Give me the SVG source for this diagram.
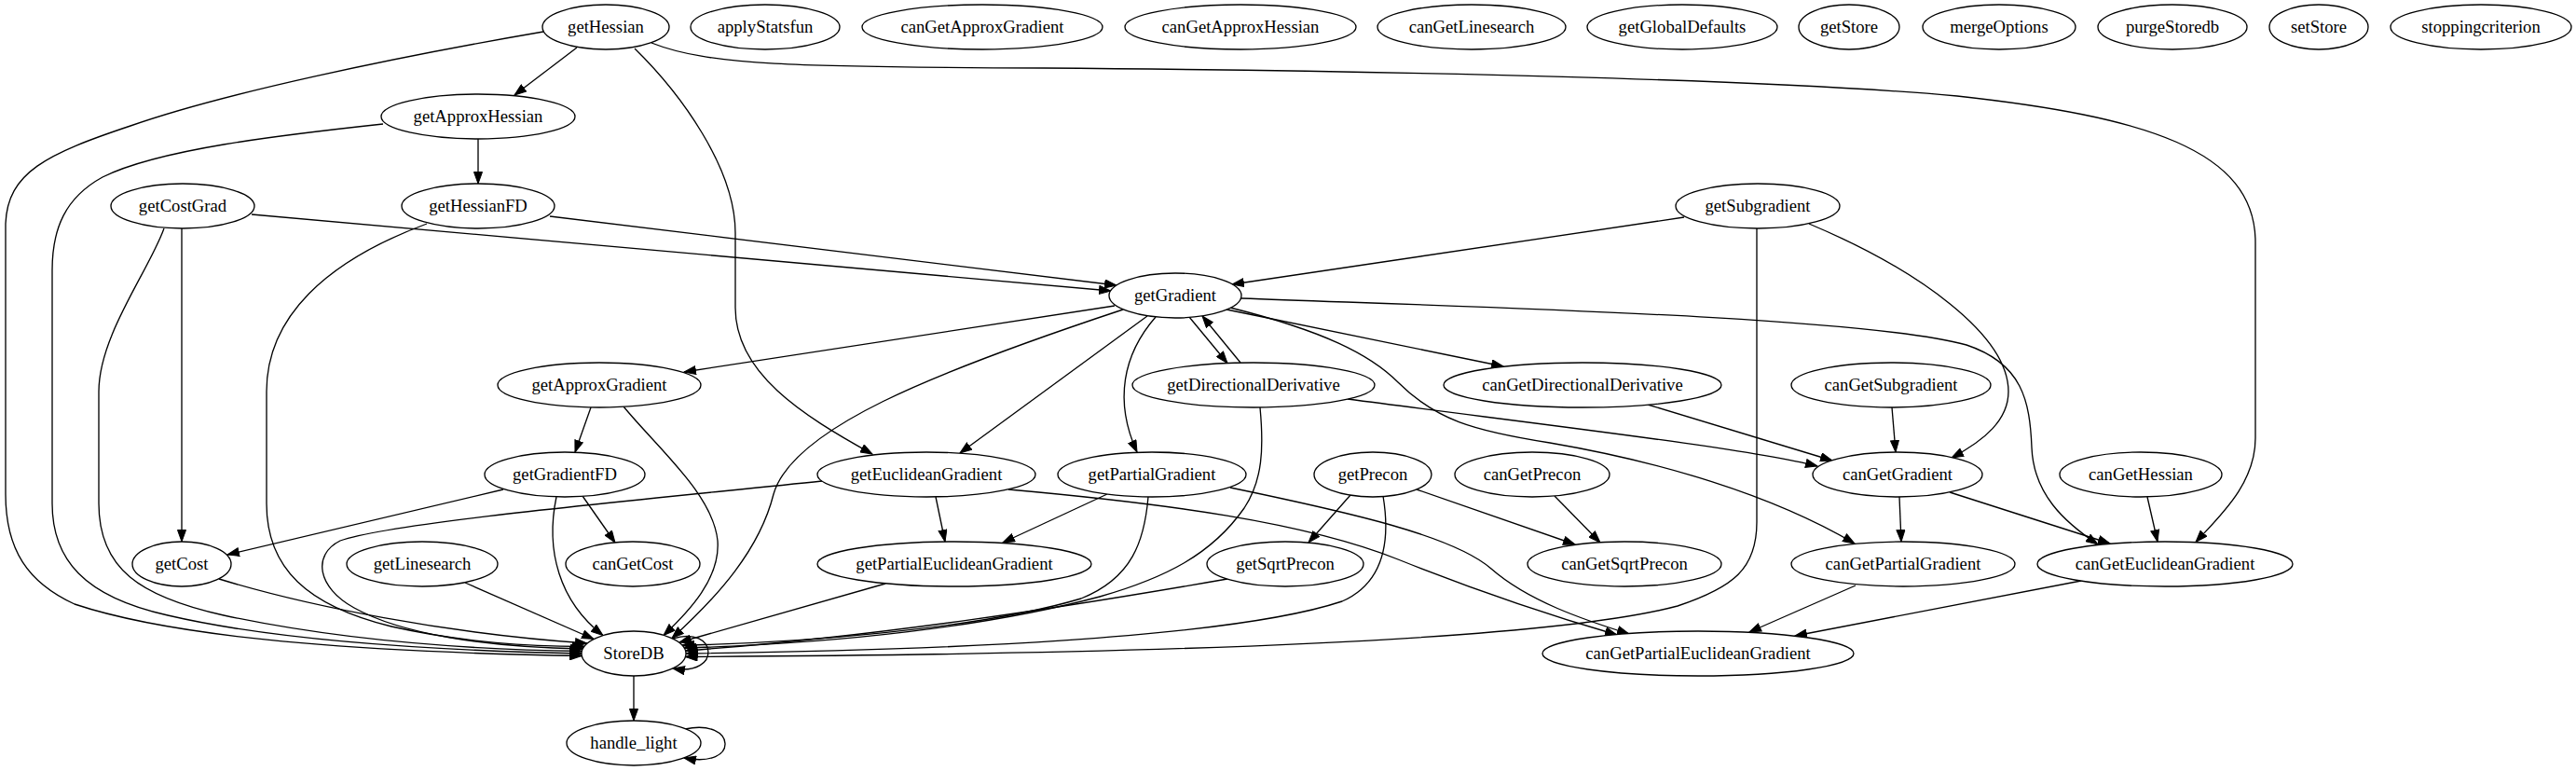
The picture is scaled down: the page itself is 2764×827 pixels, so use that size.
<svg xmlns="http://www.w3.org/2000/svg" width="2764" height="827" viewBox="0 0 2764 827">
<defs>
<style>
.n ellipse{fill:#fff;stroke:#000;stroke-width:1.33}
.n text{font-family:"Liberation Serif","Times New Roman",serif;font-size:18.67px;text-anchor:middle;fill:#000}
#edges path{fill:none;stroke:#000;stroke-width:1.33;marker-end:url(#ah)}
</style>
<marker id="ah" markerUnits="userSpaceOnUse" markerWidth="14" markerHeight="10" viewBox="0 0 14 10" refX="13" refY="5" orient="auto"><path d="M0.5,0.5 L13,5 L0.5,9.5 z" fill="#000" stroke="#000" stroke-width="1"/></marker>
</defs>
<rect width="2764" height="827" fill="#fff"/>
<g id="edges">
<path d="M619,51 L552,102"/>
<path d="M583,34 C420,62 240,100 140,135 C50,165 8,185 6,240 L6,530 C6,590 30,625 80,648 C200,688 420,700 624,703.5"/>
<path d="M411,133 C300,145 170,160 110,190 C70,212 56,245 56,290 L56,540 C56,600 90,640 180,660 C300,688 480,698 624,701"/>
<path d="M681,52 C730,100 789,180 789,250 L789,330 C789,400 860,445 936,487"/>
<path d="M513,149 L513,197"/>
<path d="M590,232 L1198,306"/>
<path d="M270,230 L1192,312"/>
<path d="M458,240 C350,280 286,340 286,420 L286,540 C286,610 330,650 420,672 C500,690 570,693 627,693.5"/>
<path d="M195,245 L195,581"/>
<path d="M176,245 C160,290 106,360 106,420 L106,540 C106,610 150,640 240,660 C380,690 520,697 624,698.5"/>
<path d="M1807,233 L1322,305"/>
<path d="M1885,245 L1885,560 C1885,610 1860,630 1800,650 C1650,690 1200,702 735.5,704.5"/>
<path d="M1941,240 C2060,290 2155,360 2155,420 C2155,450 2130,472 2094,491"/>
<path d="M1196,328 L734,399"/>
<path d="M1205,332 C1000,400 850,460 830,530 C815,590 770,640 721,684.5"/>
<path d="M1231,339 L1030,486"/>
<path d="M1240,340 C1205,380 1195,430 1220,485"/>
<path d="M1276,340 L1317,389.5"/>
<path d="M1331,389 L1290,339"/>
<path d="M1316,332 L1613,393"/>
<path d="M1320,330 C1420,355 1470,380 1500,410 C1540,450 1580,462 1663,475 C1780,495 1900,530 1990,583"/>
<path d="M1332,320 C1600,330 2000,340 2110,370 C2170,390 2178,430 2180,480 C2182,530 2215,560 2251,584"/>
<path d="M634,437 L617,485"/>
<path d="M669,436 C705,480 765,530 770,580 C773,620 740,655 712,681.5"/>
<path d="M540,525 L244,595"/>
<path d="M625,532 L660,582"/>
<path d="M597,533 C585,590 600,645 647,681.5"/>
<path d="M1446,428 C1650,455 1870,480 1950,500"/>
<path d="M1352,437 C1356,480 1355,515 1335,545 C1300,595 1250,620 1180,640 C1060,672 900,690 734.5,695"/>
<path d="M1768,434 L1966,494"/>
<path d="M2030,437 L2034,485"/>
<path d="M1004,533 L1014,581"/>
<path d="M882,516 C700,535 420,560 365,580 C335,595 340,630 380,652 C430,680 520,694 625,696"/>
<path d="M1082,525 C1250,540 1400,560 1500,600 C1600,640 1680,665 1735,681"/>
<path d="M1320,523 C1450,550 1560,575 1600,610 C1640,645 1700,665 1748,680"/>
<path d="M1188,530 L1076,582"/>
<path d="M1232,533 C1228,580 1215,620 1160,642 C1050,675 850,690 732,692"/>
<path d="M1449,531 L1404,582"/>
<path d="M1520,525 L1690,584"/>
<path d="M1484,532 C1492,580 1485,625 1440,645 C1320,685 1000,698 736,701"/>
<path d="M1668,532 L1717,582"/>
<path d="M2038,533 L2040,581"/>
<path d="M2092,528 L2264,583"/>
<path d="M2304,533 L2315,581"/>
<path d="M699,46 C760,70 850,72 1120,73 C1500,76 1900,85 2100,103 C2300,125 2420,160 2420,260 L2420,470 C2420,520 2380,555 2356,581.5"/>
<path d="M235,621 C330,650 480,680 630,690"/>
<path d="M499,625 L637,685.5"/>
<path d="M950,626 L729,689"/>
<path d="M1317,621 C1150,650 950,682 735.7,698"/>
<path d="M722,685 C770,670 775,726 722,717"/>
<path d="M680,725 L680,773"/>
<path d="M735,782 C790,770 795,825 734,813"/>
<path d="M1991,628 L1877,678"/>
<path d="M2233,623 L1926,682"/>
</g>
<g id="getHessian" class="n"><ellipse cx="650" cy="29" rx="68" ry="24"/><text x="650" y="35">getHessian</text></g>
<g id="applyStatsfun" class="n"><ellipse cx="821" cy="29" rx="80" ry="24"/><text x="821" y="35">applyStatsfun</text></g>
<g id="canGetApproxGradient" class="n"><ellipse cx="1054" cy="29" rx="129" ry="24"/><text x="1054" y="35">canGetApproxGradient</text></g>
<g id="canGetApproxHessian" class="n"><ellipse cx="1331" cy="29" rx="124" ry="24"/><text x="1331" y="35">canGetApproxHessian</text></g>
<g id="canGetLinesearch" class="n"><ellipse cx="1579" cy="29" rx="101" ry="24"/><text x="1579" y="35">canGetLinesearch</text></g>
<g id="getGlobalDefaults" class="n"><ellipse cx="1805" cy="29" rx="102" ry="24"/><text x="1805" y="35">getGlobalDefaults</text></g>
<g id="getStore" class="n"><ellipse cx="1984" cy="29" rx="54" ry="24"/><text x="1984" y="35">getStore</text></g>
<g id="mergeOptions" class="n"><ellipse cx="2145" cy="29" rx="82" ry="24"/><text x="2145" y="35">mergeOptions</text></g>
<g id="purgeStoredb" class="n"><ellipse cx="2331" cy="29" rx="80" ry="24"/><text x="2331" y="35">purgeStoredb</text></g>
<g id="setStore" class="n"><ellipse cx="2488" cy="29" rx="53" ry="24"/><text x="2488" y="35">setStore</text></g>
<g id="stoppingcriterion" class="n"><ellipse cx="2662" cy="29" rx="97" ry="24"/><text x="2662" y="35">stoppingcriterion</text></g>
<g id="getApproxHessian" class="n"><ellipse cx="513" cy="125" rx="104" ry="24"/><text x="513" y="131">getApproxHessian</text></g>
<g id="getCostGrad" class="n"><ellipse cx="196" cy="221" rx="77" ry="24"/><text x="196" y="227">getCostGrad</text></g>
<g id="getHessianFD" class="n"><ellipse cx="513" cy="221" rx="82" ry="24"/><text x="513" y="227">getHessianFD</text></g>
<g id="getSubgradient" class="n"><ellipse cx="1886" cy="221" rx="88" ry="24"/><text x="1886" y="227">getSubgradient</text></g>
<g id="getGradient" class="n"><ellipse cx="1261" cy="317" rx="71" ry="24"/><text x="1261" y="323">getGradient</text></g>
<g id="getApproxGradient" class="n"><ellipse cx="643" cy="413" rx="109" ry="24"/><text x="643" y="419">getApproxGradient</text></g>
<g id="getDirectionalDerivative" class="n"><ellipse cx="1345" cy="413" rx="130" ry="24"/><text x="1345" y="419">getDirectionalDerivative</text></g>
<g id="canGetDirectionalDerivative" class="n"><ellipse cx="1698" cy="413" rx="149" ry="24"/><text x="1698" y="419">canGetDirectionalDerivative</text></g>
<g id="canGetSubgradient" class="n"><ellipse cx="2029" cy="413" rx="107" ry="24"/><text x="2029" y="419">canGetSubgradient</text></g>
<g id="getGradientFD" class="n"><ellipse cx="606" cy="509" rx="86" ry="24"/><text x="606" y="515">getGradientFD</text></g>
<g id="getEuclideanGradient" class="n"><ellipse cx="994" cy="509" rx="117" ry="24"/><text x="994" y="515">getEuclideanGradient</text></g>
<g id="getPartialGradient" class="n"><ellipse cx="1236" cy="509" rx="101" ry="24"/><text x="1236" y="515">getPartialGradient</text></g>
<g id="getPrecon" class="n"><ellipse cx="1473" cy="509" rx="63" ry="24"/><text x="1473" y="515">getPrecon</text></g>
<g id="canGetPrecon" class="n"><ellipse cx="1644" cy="509" rx="83" ry="24"/><text x="1644" y="515">canGetPrecon</text></g>
<g id="canGetGradient" class="n"><ellipse cx="2036" cy="509" rx="91" ry="24"/><text x="2036" y="515">canGetGradient</text></g>
<g id="canGetHessian" class="n"><ellipse cx="2297" cy="509" rx="87" ry="24"/><text x="2297" y="515">canGetHessian</text></g>
<g id="getCost" class="n"><ellipse cx="195" cy="605" rx="53" ry="24"/><text x="195" y="611">getCost</text></g>
<g id="getLinesearch" class="n"><ellipse cx="453" cy="605" rx="81" ry="24"/><text x="453" y="611">getLinesearch</text></g>
<g id="canGetCost" class="n"><ellipse cx="679" cy="605" rx="72" ry="24"/><text x="679" y="611">canGetCost</text></g>
<g id="getPartialEuclideanGradient" class="n"><ellipse cx="1024" cy="605" rx="147" ry="24"/><text x="1024" y="611">getPartialEuclideanGradient</text></g>
<g id="getSqrtPrecon" class="n"><ellipse cx="1379" cy="605" rx="84" ry="24"/><text x="1379" y="611">getSqrtPrecon</text></g>
<g id="canGetSqrtPrecon" class="n"><ellipse cx="1743" cy="605" rx="104" ry="24"/><text x="1743" y="611">canGetSqrtPrecon</text></g>
<g id="canGetPartialGradient" class="n"><ellipse cx="2042" cy="605" rx="120" ry="24"/><text x="2042" y="611">canGetPartialGradient</text></g>
<g id="canGetEuclideanGradient" class="n"><ellipse cx="2323" cy="605" rx="137" ry="24"/><text x="2323" y="611">canGetEuclideanGradient</text></g>
<g id="StoreDB" class="n"><ellipse cx="680" cy="701" rx="56" ry="24"/><text x="680" y="707">StoreDB</text></g>
<g id="canGetPartialEuclideanGradient" class="n"><ellipse cx="1822" cy="701" rx="167" ry="24"/><text x="1822" y="707">canGetPartialEuclideanGradient</text></g>
<g id="handle_light" class="n"><ellipse cx="680" cy="797" rx="72" ry="24"/><text x="680" y="803">handle_light</text></g>
</svg>
